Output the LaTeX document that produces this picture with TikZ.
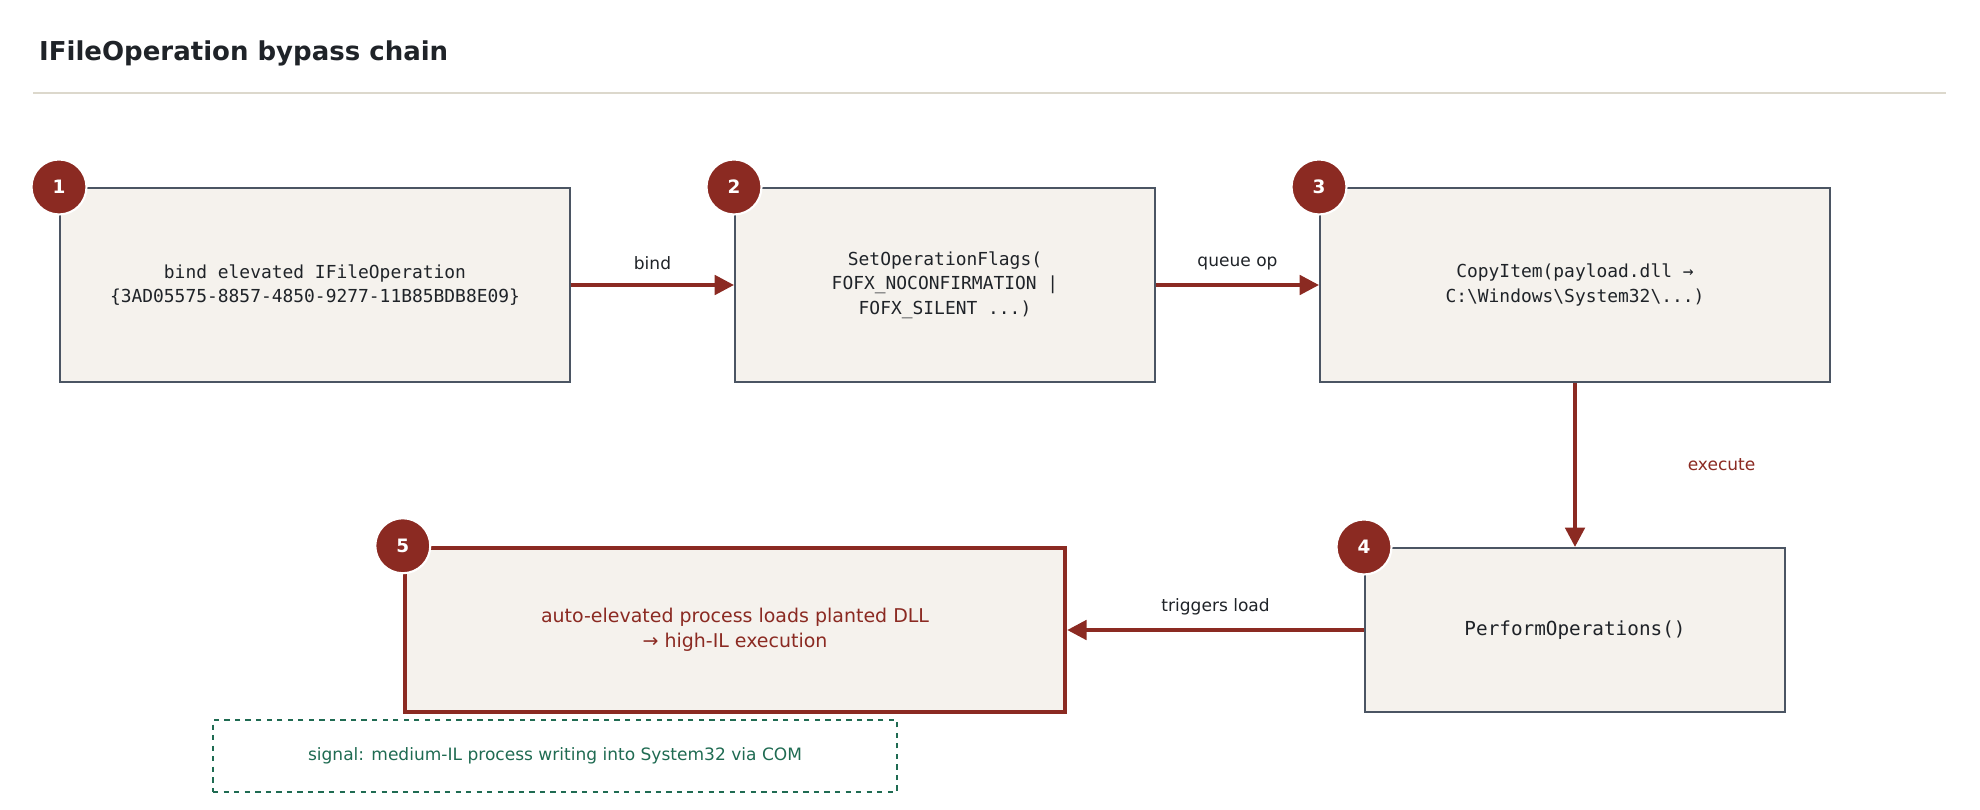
\documentclass[tikz,border=0pt]{standalone}
\usepackage{fontspec}
\setmainfont{DejaVu Sans}
\setsansfont{DejaVu Sans}
\setmonofont{DejaVu Sans Mono}
\usetikzlibrary{arrows.meta,positioning,calc}
\definecolor{chainred}{HTML}{8B2A22}
\definecolor{chainfill}{HTML}{F5F2ED}
\definecolor{chaingray}{HTML}{4B5563}
\definecolor{chaingreen}{HTML}{1F6B52}
\definecolor{chainrule}{HTML}{DCD8CC}
\definecolor{chaintext}{HTML}{1F2328}

\begin{document}
\begin{tikzpicture}[x=0.02cm, y=-0.02cm]
    % Define styles
    \tikzset{
        stage/.style={rectangle, draw=chaingray, line width=1.2pt, fill=chainfill,
                     align=center, font=\ttfamily\fontsize{10.2}{14}\selectfont, text=chaintext},
        badge/.style={circle, fill=chainred, draw=white, line width=1.2pt, minimum size=1.1cm,
                      inner sep=0pt, text=white, font=\bfseries\fontsize{10.5}{12}\selectfont},
        flow/.style={-{Triangle[length=11pt, width=11pt]}, chainred, line width=2.2pt},
        lbl/.style={font=\fontsize{9.7}{12}\selectfont, text=chaintext}
    }
    \useasboundingbox (0,0) rectangle (1980,809);

    % Title
    \node[anchor=west, font=\bfseries\fontsize{14.8}{18}\selectfont, text=chaintext] (title) at (33,53) {IFileOperation bypass chain};
    \draw[chainrule, line width=0.8pt] (33,93) -- (1946,93);

    % Nodes
    \node[stage, minimum width=10.2cm, minimum height=3.88cm] (bind) at (315,285)
        {bind elevated IFileOperation\\\{3AD05575-8857-4850-9277-11B85BDB8E09\}};
    \node[stage, minimum width=8.4cm, minimum height=3.88cm] (flags) at (945,285)
        {SetOperationFlags(\\FOFX\_NOCONFIRMATION |\\FOFX\_SILENT ...)};
    \node[stage, minimum width=10.2cm, minimum height=3.88cm] (copy) at (1575,285)
        {CopyItem(payload.dll \textrightarrow\\C:\textbackslash Windows\textbackslash System32\textbackslash ...)};
    \node[stage, minimum width=8.4cm, minimum height=3.28cm, font=\ttfamily\fontsize{11}{14}\selectfont] (perform) at (1575,630)
        {PerformOperations()};
    \node[stage, draw=chainred, line width=2.6pt, minimum width=13.2cm, minimum height=3.28cm,
          font=\fontsize{10.8}{14}\selectfont, text=chainred] (load) at (735,630)
        {auto-elevated process loads planted DLL\\\textrightarrow{} high-IL execution};
    \node[rectangle, draw=chaingreen, dashed, line width=1.2pt, minimum width=13.68cm, minimum height=1.44cm,
          font=\fontsize{9.7}{12}\selectfont, text=chaingreen] (signal) at (555,756)
        {signal: medium-IL process writing into System32 via COM};

    % Badges
    \node[badge] (b1) at (bind.north west) {1};
    \node[badge] (b2) at (flags.north west) {2};
    \node[badge] (b3) at (copy.north west) {3};
    \node[badge] (b4) at (perform.north west) {4};
    \node[badge] (b5) at (load.north west) {5};

    % Connections
    \draw[flow] (bind) -- node[lbl, above=4pt] {bind} (flags);
    \draw[flow] (flags) -- node[lbl, above=4pt] {queue op} (copy);
    \draw[flow] (copy) -- node[lbl, right=2.1cm, text=chainred] {execute} (perform);
    \draw[flow] (perform) -- node[lbl, above=4pt] {triggers load} (load);
\end{tikzpicture}
\end{document}
